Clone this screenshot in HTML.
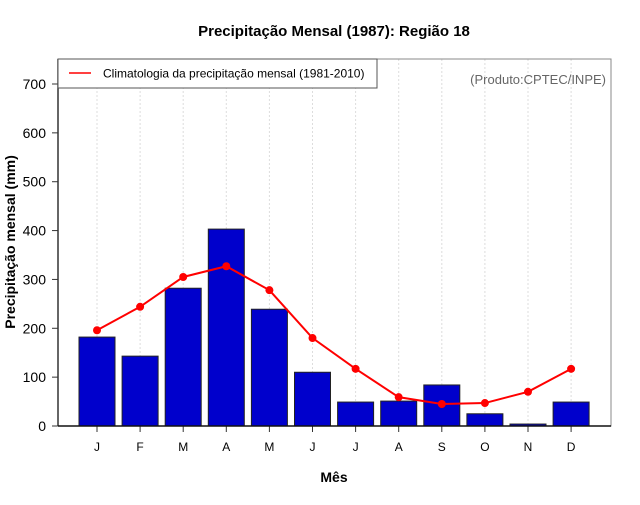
<!DOCTYPE html>
<html><head><meta charset="utf-8"><style>
body{margin:0;background:#fff}
svg text{font-family:"Liberation Sans",sans-serif}
</style></head><body>
<svg id="chart" width="640" height="500" xmlns="http://www.w3.org/2000/svg">
<rect width="640" height="500" fill="#fff"/>
<text x="334" y="36" text-anchor="middle" font-size="15" font-weight="bold">Precipitação Mensal (1987): Região 18</text>
<text x="334" y="482" text-anchor="middle" font-size="14" font-weight="bold">Mês</text>
<text transform="translate(15,242) rotate(-90)" text-anchor="middle" font-size="14" font-weight="bold">Precipitação mensal (mm)</text>
<g id="grid"></g>
<g id="bars"></g>
<g id="line"></g>
<g id="axes"></g>
<rect x="58" y="59" width="553" height="367" fill="none" stroke="#888" stroke-width="1"/>
<line x1="58" y1="59" x2="58" y2="426" stroke="#333" stroke-width="1.5"/>
<line x1="58" y1="426" x2="611" y2="426" stroke="#111" stroke-width="1.5"/>
<g>
<rect x="58" y="59" width="319" height="29" fill="#fff" stroke="#555" stroke-width="1"/>
<line x1="69" y1="73" x2="91" y2="73" stroke="#f00" stroke-width="1.5"/>
<text x="103" y="77.5" font-size="12">Climatologia da precipitação mensal (1981-2010)</text>
</g>
<text x="606" y="84" text-anchor="end" font-size="13" fill="#666">(Produto:CPTEC/INPE)</text>
</svg>
<script>
const months=["J","F","M","A","M","J","J","A","S","O","N","D"];
const precip=[182,143,282,403,239,110,49,51,84,25,4,49];
const clim=[196,244,305,327,278,180,117,59,45,47,70,117];
const yTicks=[0,100,200,300,400,500,600,700];
const NS="http://www.w3.org/2000/svg";
const x0=97,dx=43.1,yBase=426,ppu=342/700;
const X=i=>x0+i*dx, Y=v=>yBase-v*ppu;
function mk(t,a,p){const e=document.createElementNS(NS,t);for(const k in a)e.setAttribute(k,a[k]);p.appendChild(e);return e;}
const grid=document.getElementById('grid'),bars=document.getElementById('bars'),line=document.getElementById('line'),axes=document.getElementById('axes');
months.forEach((m,i)=>{
 const g=mk('line',{x1:X(i),x2:X(i),y1:59,y2:426,stroke:'#ddd','stroke-dasharray':'2,2'},grid);
 
 
 const b=mk('rect',{x:X(i)-18,y:Y(precip[i]),width:36,height:precip[i]*ppu,fill:'#0000cc',stroke:'#222','stroke-width':1},bars);
 
 
 const t=mk('line',{x1:X(i),x2:X(i),y1:426,y2:432,stroke:'#333'},axes);
 
 
 const l=mk('text',{x:X(i),y:451,'text-anchor':'middle','font-size':12},axes);
 l.textContent=m;
 
 
});
const p=mk('polyline',{points:clim.map((v,i)=>X(i)+','+Y(v)).join(' '),fill:'none',stroke:'#f00','stroke-width':2},line);


clim.forEach((v,i)=>{
 const c=mk('circle',{cx:X(i),cy:Y(v),r:4,fill:'#f00'},line);
 
 
});
yTicks.forEach(v=>{
 const t=mk('line',{x1:52,x2:58,y1:Y(v),y2:Y(v),stroke:'#333'},axes);
 
 
 const l=mk('text',{x:46,y:Y(v)+5,'text-anchor':'end','font-size':14},axes);
 l.textContent=v;
 
 
});
</script>
</body></html>
